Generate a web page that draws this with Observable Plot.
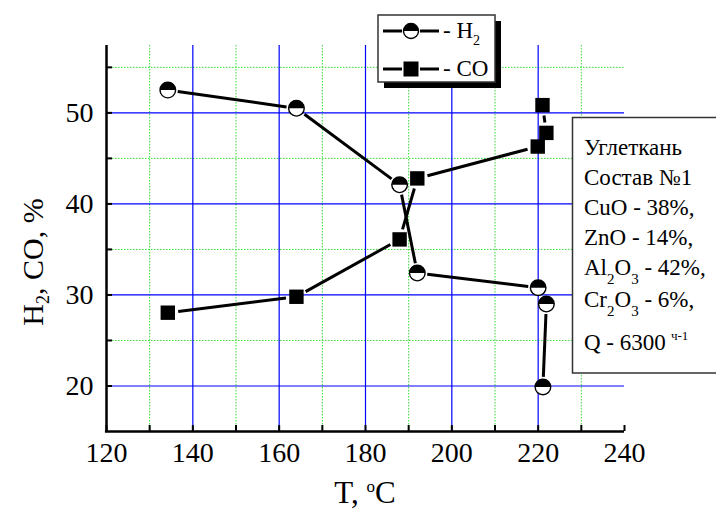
<!DOCTYPE html>
<html><head><meta charset="utf-8">
<script src="https://cdn.jsdelivr.net/npm/d3@7"></script>
<script src="https://cdn.jsdelivr.net/npm/@observablehq/plot@0.6"></script>
<style>body{margin:0;background:#fff}</style>
</head><body><div id="chart"></div>
<script>
// ---- data ----
const tempH2 = [134.2, 164.0, 187.9, 192.0, 220.0, 221.9, 221.1];
const valH2  = [52.5, 50.5, 42.1, 32.4, 30.8, 29.0, 19.9];
const tempCO = [134.2, 164.0, 187.9, 192.0, 219.9, 221.9, 221.0];
const valCO  = [28.05, 29.8, 36.1, 42.8, 46.3, 47.8, 50.85];
const xTicks = [120, 140, 160, 180, 200, 220, 240];
const xMinor = [130, 150, 170, 190, 210, 230];
const xGridMajor = [140, 160, 180, 200, 220];
const yTicks = [20, 30, 40, 50];
const yMinor = [25, 35, 45, 55];
const xDomain = [120, 240];
const yDomain = [15, 57.4];
const legendLabels = ["H", "CO"];
const noteLines = ["Углеткань", "Состав №1", "CuO - 38%,", "ZnO - 14%,"];

const FONT = "'Liberation Serif', 'Times New Roman', Times, serif";

// ---- layout ----
const W = 716, H = 510, ml = 106, mr = 92, mt = 45, mb = 79;
const fw = W - ml - mr, fh = H - mt - mb;
const px = v => ml + (v - xDomain[0]) / (xDomain[1] - xDomain[0]) * fw;
const py = v => H - mb - (v - yDomain[0]) / (yDomain[1] - yDomain[0]) * fh;
const ix = p => xDomain[0] + (p - ml) / fw * (xDomain[1] - xDomain[0]);
const iy = p => yDomain[0] + (H - mb - p) / fh * (yDomain[1] - yDomain[0]);

function segments(xs, ys, gap) {
  const out = [];
  for (let i = 0; i < xs.length - 1; i++) {
    const ax = px(xs[i]), ay = py(ys[i]), bx = px(xs[i+1]), by = py(ys[i+1]);
    const L = Math.hypot(bx - ax, by - ay);
    if (L <= 2 * gap + 1) continue;
    const ux = (bx - ax) / L, uy = (by - ay) / L;
    out.push({x1: ix(ax + ux*gap), y1: iy(ay + uy*gap), x2: ix(bx - ux*gap), y2: iy(by - uy*gap)});
  }
  return out;
}
const h2 = tempH2.map((t, i) => ({t, v: valH2[i]}));
const co = tempCO.map((t, i) => ({t, v: valCO[i]}));
const segH2 = segments(tempH2, valH2, 10);
const segCO = segments(tempCO, valCO, 10.5);

const halfTop = {
  draw(context, size) {
    const r = Math.sqrt(size / Math.PI);
    context.moveTo(r, 0);
    context.arc(0, 0, r, 0, Math.PI, true);
    context.closePath();
  }
};
const squareSym = {
  draw(context, size) {
    const r = Math.sqrt(size / Math.PI);
    context.rect(-r, -r, 2*r, 2*r);
  }
};

const plot = Plot.plot({
  width: W, height: H,
  marginLeft: ml, marginRight: mr, marginTop: mt, marginBottom: mb,
  x: {domain: xDomain},
  y: {domain: yDomain},
  style: {fontFamily: FONT, fontSize: "28px", color: "black", background: "white"},
  marks: [
    Plot.ruleX(xMinor, {stroke: "#33dd33", strokeDasharray: "1.5,1.5", strokeWidth: 1}),
    Plot.ruleY(yMinor, {stroke: "#33dd33", strokeDasharray: "1.5,1.5", strokeWidth: 1}),
    Plot.ruleX(xGridMajor, {stroke: "#0000ff", strokeWidth: 1.2}),
    Plot.ruleY(yTicks, {stroke: "#0000ff", strokeWidth: 1.2}),
    Plot.axisX({ticks: xTicks, tickSize: 0, tickPadding: 11, label: null, tickFormat: d => String(d), fontFamily: FONT, fontSize: 28}),
    Plot.axisY({ticks: yTicks, tickSize: 0, tickPadding: 13, label: null, tickFormat: d => String(d), fontFamily: FONT, fontSize: 28}),
    Plot.tickX([...xTicks, ...xMinor], {x: d => d, insetTop: fh - 6, strokeWidth: 2, stroke: "black"}),
    Plot.tickY([...yTicks, ...yMinor], {y: d => d, insetRight: fw - 6, strokeWidth: 2, stroke: "black"}),
    Plot.ruleX([xDomain[0]], {strokeWidth: 2.5, stroke: "black"}),
    Plot.ruleY([yDomain[0]], {strokeWidth: 2.5, stroke: "black", x1: xDomain[0] - 0.25, x2: xDomain[1]}),
    Plot.link(segH2, {x1: "x1", y1: "y1", x2: "x2", y2: "y2", stroke: "black", strokeWidth: 3}),
    Plot.link(segCO, {x1: "x1", y1: "y1", x2: "x2", y2: "y2", stroke: "black", strokeWidth: 3}),
    Plot.dot(h2, {x: "t", y: "v", r: 7.8, fill: "white", stroke: "black", strokeWidth: 1.4}),
    Plot.dot(h2, {x: "t", y: "v", r: 7.8, symbol: halfTop, fill: "black"}),
    Plot.dot(co, {x: "t", y: "v", r: 7.2, symbol: squareSym, fill: "black"})
  ]
});
document.getElementById("chart").appendChild(plot);

// ---- overlays: titles, legend, note ----
const svg = d3.select(plot);
const g = svg.append("g").attr("font-family", FONT).attr("fill", "black").attr("text-anchor", "start");

// x title
const xt = g.append("text").attr("x", 365).attr("y", 503).attr("text-anchor", "middle").attr("font-size", 31);
xt.append("tspan").text("T, ");
xt.append("tspan").attr("font-size", 17).attr("dy", -11).text("o");
xt.append("tspan").attr("dy", 11).text("C");

// y title
const yt = g.append("text").attr("transform", "translate(43,262) rotate(-90)").attr("text-anchor", "middle").attr("font-size", 30);
yt.append("tspan").text("H");
yt.append("tspan").attr("font-size", 18).attr("dy", 6).text("2");
yt.append("tspan").attr("dy", -6).text(", CO, %");

// legend
const lg = g.append("g");
lg.append("rect").attr("x", 384).attr("y", 21).attr("width", 117).attr("height", 67).attr("fill", "black");
lg.append("rect").attr("x", 378).attr("y", 15).attr("width", 117).attr("height", 67)
  .attr("fill", "white").attr("stroke", "#333").attr("stroke-width", 1.5);
[[31, "circle"], [69, "square"]].forEach(([yy, kind], i) => {
  lg.append("line").attr("x1", 383).attr("x2", 402).attr("y1", yy).attr("y2", yy).attr("stroke", "black").attr("stroke-width", 3);
  lg.append("line").attr("x1", 420).attr("x2", 439).attr("y1", yy).attr("y2", yy).attr("stroke", "black").attr("stroke-width", 3);
  if (kind === "circle") {
    lg.append("circle").attr("cx", 411).attr("cy", yy).attr("r", 7.5).attr("fill", "white").attr("stroke", "black").attr("stroke-width", 1.4);
    lg.append("path").attr("transform", `translate(411,${yy})`).attr("d", d3.symbol(halfTop, Math.PI * 7.5 * 7.5)()).attr("fill", "black");
  } else {
    lg.append("rect").attr("x", 403.5).attr("y", yy - 7.5).attr("width", 15).attr("height", 15).attr("fill", "black");
  }
  const t = lg.append("text").attr("x", 443).attr("y", yy + 7).attr("font-size", 23);
  t.append("tspan").text("- " + legendLabels[i]);
  if (i === 0) t.append("tspan").attr("font-size", 14).attr("dy", 7).text("2");
});

// note box
const nb = g.append("g");
nb.append("rect").attr("x", 572.5).attr("y", 117.5).attr("width", 200).attr("height", 255.5)
  .attr("fill", "white").attr("stroke", "#333").attr("stroke-width", 1.5);
const baseY = [155, 185, 215, 245];
noteLines.forEach((s, i) => nb.append("text").attr("x", 584).attr("y", baseY[i]).attr("font-size", 23).text(s));
function chem(y, parts) {
  const t = nb.append("text").attr("x", 584).attr("y", y).attr("font-size", 23);
  let down = false;
  parts.forEach(([s, sub]) => {
    const dy = sub ? (down ? 0 : 9) : (down ? -9 : 0);
    down = !!sub;
    const sp = t.append("tspan").attr("dy", dy).text(s);
    if (sub) sp.attr("font-size", 15);
  });
}
chem(275, [["Al"], ["2", true], ["O"], ["3", true], [" - 42%,"]]);
chem(307, [["Cr"], ["2", true], ["O"], ["3", true], [" - 6%,"]]);
nb.append("text").attr("x", 584).attr("y", 350).attr("font-size", 23).text("Q - 6300");
nb.append("text").attr("x", 671).attr("y", 340).attr("font-size", 13).text("ч-1");
</script>
</body></html>
